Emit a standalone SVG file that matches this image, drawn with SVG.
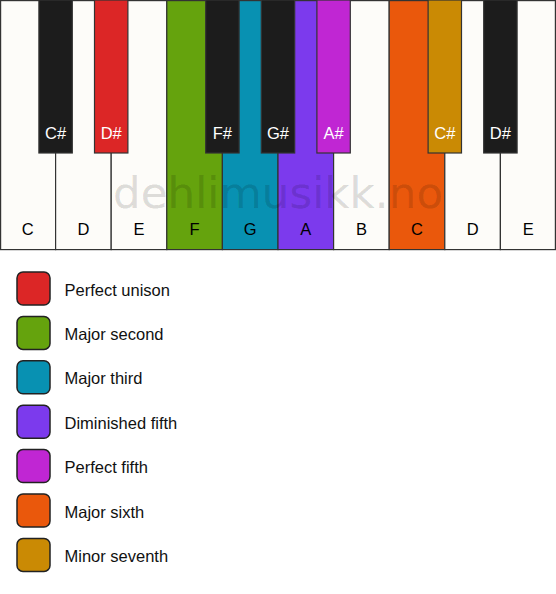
<svg xmlns="http://www.w3.org/2000/svg" width="556" height="594" viewBox="0 0 556 594">
<style>
.w{stroke:#333;stroke-width:1.2}
.b{stroke:#333;stroke-width:1.2}
.lw{font-family:"Liberation Sans",Arial,sans-serif;font-size:16.5px;fill:#000;text-anchor:middle}
.lb{font-family:"Liberation Sans",Arial,sans-serif;font-size:16.5px;fill:#fff;text-anchor:middle}
.sw{stroke:#222;stroke-width:1.5}
.lt{font-family:"Liberation Sans",Arial,sans-serif;font-size:16.5px;fill:#111}
.wm{font-family:"DejaVu Sans",Verdana,sans-serif;font-size:43.5px;fill:#000;fill-opacity:0.13;stroke:#000;stroke-opacity:0.04;stroke-width:1}
</style>
<rect width="556" height="594" fill="#ffffff"/>
<g id="white-keys">
<g id="key-C1"><rect class="w" x="0.6" y="0.6" width="55" height="249" fill="#fdfcf9"/><text class="lw" x="27.8" y="235">C</text></g>
<g id="key-D1"><rect class="w" x="55.6" y="0.6" width="55.6" height="249" fill="#fdfcf9"/><text class="lw" x="83.4" y="235">D</text></g>
<g id="key-E1"><rect class="w" x="111.2" y="0.6" width="55.6" height="249" fill="#fdfcf9"/><text class="lw" x="139" y="235">E</text></g>
<g id="key-F"><rect class="w" x="166.8" y="0.6" width="55.6" height="249" fill="#65a30d"/><text class="lw" x="194.6" y="235">F</text></g>
<g id="key-G"><rect class="w" x="222.4" y="0.6" width="55.6" height="249" fill="#0891b2"/><text class="lw" x="250.2" y="235">G</text></g>
<g id="key-A"><rect class="w" x="278" y="0.6" width="55.6" height="249" fill="#7c3aed"/><text class="lw" x="305.8" y="235">A</text></g>
<g id="key-B"><rect class="w" x="333.6" y="0.6" width="55.6" height="249" fill="#fdfcf9"/><text class="lw" x="361.4" y="235">B</text></g>
<g id="key-C2"><rect class="w" x="389.2" y="0.6" width="55.6" height="249" fill="#ea580c"/><text class="lw" x="417" y="235">C</text></g>
<g id="key-D2"><rect class="w" x="444.8" y="0.6" width="55.6" height="249" fill="#fdfcf9"/><text class="lw" x="472.6" y="235">D</text></g>
<g id="key-E2"><rect class="w" x="500.4" y="0.6" width="55" height="249" fill="#fdfcf9"/><text class="lw" x="528.2" y="235">E</text></g>
</g>
<text class="wm" x="113" y="208" textLength="330" lengthAdjust="spacing">dehlimusikk.no</text>
<g id="black-keys">
<g id="key-Cs1"><rect class="b" x="38.9" y="0" width="33.4" height="153" fill="#1c1c1c"/><text class="lb" x="55.6" y="139">C#</text></g>
<g id="key-Ds1"><rect class="b" x="94.5" y="0" width="33.4" height="153" fill="#dc2626"/><text class="lb" x="111.2" y="139">D#</text></g>
<g id="key-Fs"><rect class="b" x="205.7" y="0" width="33.4" height="153" fill="#1c1c1c"/><text class="lb" x="222.4" y="139">F#</text></g>
<g id="key-Gs"><rect class="b" x="261.3" y="0" width="33.4" height="153" fill="#1c1c1c"/><text class="lb" x="278" y="139">G#</text></g>
<g id="key-As"><rect class="b" x="316.9" y="0" width="33.4" height="153" fill="#c026d3"/><text class="lb" x="333.6" y="139">A#</text></g>
<g id="key-Cs2"><rect class="b" x="428.1" y="0" width="33.4" height="153" fill="#ca8a04"/><text class="lb" x="444.8" y="139">C#</text></g>
<g id="key-Ds2"><rect class="b" x="483.7" y="0" width="33.4" height="153" fill="#1c1c1c"/><text class="lb" x="500.4" y="139">D#</text></g>
</g>
<g id="legend">
<g id="legend-unison"><rect class="sw" x="17" y="272" width="33" height="33" rx="6" fill="#dc2626"/><text class="lt" x="64.5" y="295.5">Perfect unison</text></g>
<g id="legend-second"><rect class="sw" x="17" y="316.4" width="33" height="33" rx="6" fill="#65a30d"/><text class="lt" x="64.5" y="339.9">Major second</text></g>
<g id="legend-third"><rect class="sw" x="17" y="360.8" width="33" height="33" rx="6" fill="#0891b2"/><text class="lt" x="64.5" y="384.3">Major third</text></g>
<g id="legend-dimfifth"><rect class="sw" x="17" y="405.2" width="33" height="33" rx="6" fill="#7c3aed"/><text class="lt" x="64.5" y="428.7">Diminished fifth</text></g>
<g id="legend-fifth"><rect class="sw" x="17" y="449.6" width="33" height="33" rx="6" fill="#c026d3"/><text class="lt" x="64.5" y="473.1">Perfect fifth</text></g>
<g id="legend-sixth"><rect class="sw" x="17" y="494" width="33" height="33" rx="6" fill="#ea580c"/><text class="lt" x="64.5" y="517.5">Major sixth</text></g>
<g id="legend-seventh"><rect class="sw" x="17" y="538.4" width="33" height="33" rx="6" fill="#ca8a04"/><text class="lt" x="64.5" y="561.9">Minor seventh</text></g>
</g>
</svg>
